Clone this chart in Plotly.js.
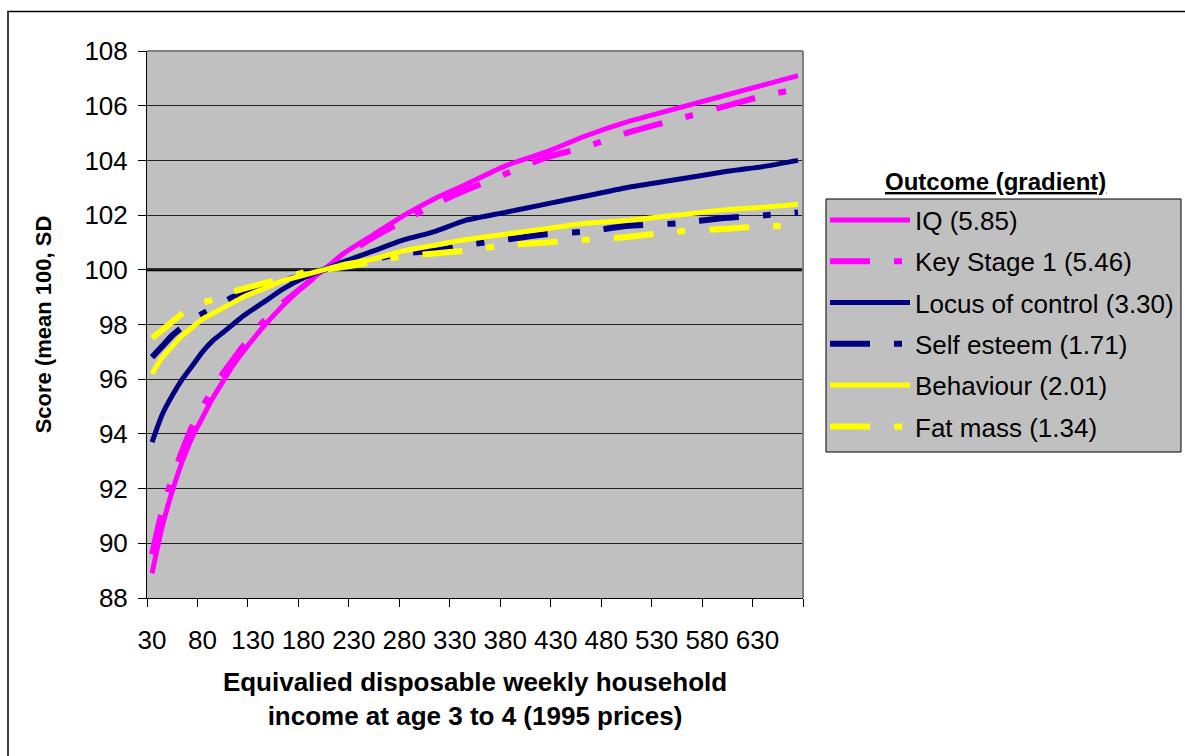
<!DOCTYPE html>
<html>
<head>
<meta charset="utf-8">
<script src="https://cdn.plot.ly/plotly-3.0.1.min.js"></script>
<style>
  html, body { margin: 0; padding: 0; background: #ffffff; }
  #chart { width: 1185px; height: 756px; }
</style>
</head>
<body>
<div id="chart"></div>
<script>
// Equivalised weekly household income (x, 1995 prices)
const income = [30, 40, 50, 60, 70, 80, 90, 100, 110, 120, 140, 160, 180, 200, 220, 250, 280, 310, 340, 380, 420, 460, 500, 550, 600, 640, 670];

// Scores (mean 100, SD)
const iq         = [88.9, 90.6, 91.9, 93.0, 93.9, 94.6, 95.3, 95.9, 96.5, 97.0, 97.9, 98.7, 99.4, 100.0, 100.6, 101.3, 102.0, 102.6, 103.1, 103.8, 104.3, 104.9, 105.4, 105.9, 106.4, 106.8, 107.1];
const keyStage1  = [89.6, 91.2, 92.4, 93.4, 94.3, 95.0, 95.6, 96.2, 96.7, 97.2, 98.1, 98.8, 99.4, 100.0, 100.5, 101.2, 101.8, 102.4, 102.9, 103.5, 104.1, 104.5, 105.0, 105.5, 106.0, 106.4, 106.6];
const locus      = [93.7, 94.7, 95.4, 96.0, 96.5, 97.0, 97.4, 97.7, 98.0, 98.3, 98.8, 99.3, 99.7, 100.0, 100.3, 100.7, 101.1, 101.4, 101.8, 102.1, 102.4, 102.7, 103.0, 103.3, 103.6, 103.8, 104.0];
const selfEsteem = [96.8, 97.2, 97.6, 97.9, 98.2, 98.4, 98.6, 98.8, 99.0, 99.1, 99.4, 99.6, 99.8, 100.0, 100.2, 100.4, 100.6, 100.7, 100.9, 101.1, 101.3, 101.4, 101.6, 101.7, 101.9, 102.0, 102.1];
const behaviour  = [96.2, 96.8, 97.2, 97.6, 97.9, 98.2, 98.4, 98.6, 98.8, 99.0, 99.3, 99.6, 99.8, 100.0, 100.2, 100.4, 100.7, 100.9, 101.1, 101.3, 101.5, 101.7, 101.8, 102.0, 102.2, 102.3, 102.4];
const fatMass    = [97.5, 97.8, 98.1, 98.4, 98.6, 98.8, 98.9, 99.1, 99.2, 99.3, 99.5, 99.7, 99.9, 100.0, 100.1, 100.3, 100.5, 100.6, 100.7, 100.9, 101.0, 101.1, 101.2, 101.4, 101.5, 101.6, 101.6];

const seriesNames = ["IQ (5.85)", "Key Stage 1 (5.46)", "Locus of control (3.30)", "Self esteem (1.71)", "Behaviour (2.01)", "Fat mass (1.34)"];

// x tick marks (category boundaries) and labels
const xTickVals = [25, 75, 125, 175, 225, 275, 325, 375, 425, 475, 525, 575, 625, 675];
const xTickText = ["30", "80", "130", "180", "230", "280", "330", "380", "430", "480", "530", "580", "630", ""];

const MAGENTA = "#FF00FF", NAVY = "#000080", YELLOW = "#FFFF00";
const DASH = "40px,24px,8px,24px";

function tr(y, name, color, dashed, i) {
  return {
    x: income, y: y, name: name, type: "scatter", mode: "lines",
    legendgroup: "g" + i,
    line: { color: color, width: dashed ? 6 : 5, dash: dashed ? DASH : "solid", shape: "spline", smoothing: 0.6 },
    hoverinfo: "skip"
  };
}

const data = [
  tr(iq, seriesNames[0], MAGENTA, false, 0),
  tr(keyStage1, seriesNames[1], MAGENTA, true, 1),
  tr(locus, seriesNames[2], NAVY, false, 2),
  tr(selfEsteem, seriesNames[3], NAVY, true, 3),
  tr(behaviour, seriesNames[4], YELLOW, false, 4),
  tr(fatMass, seriesNames[5], YELLOW, true, 5)
];

const W = 1185, H = 756, L = 147, R = 382, T = 51, B = 158;
const PW = W - L - R, PH = H - T - B;
const px = v => (v - L) / PW;          // page x pixel -> paper
const py = v => (H - B - v) / PH;      // page y pixel -> paper

const FONT = "Liberation Sans, Arial, sans-serif";

const layout = {
  width: W, height: H,
  margin: { l: L, r: R, t: T, b: B, pad: 0, autoexpand: false },
  paper_bgcolor: "#ffffff",
  plot_bgcolor: "#C0C0C0",
  font: { family: FONT, color: "#000000", size: 25 },
  showlegend: true,
  legend: {
    x: px(825), y: py(196.5), xanchor: "left", yanchor: "top",
    bgcolor: "rgba(0,0,0,0)", borderwidth: 0,
    font: { family: FONT, size: 26, color: "#000" },
    itemwidth: 80, traceorder: "grouped", tracegroupgap: 4.5,
    itemclick: false, itemdoubleclick: false
  },
  xaxis: {
    type: "linear", range: [25, 675],
    tickmode: "array", tickvals: xTickVals, ticktext: xTickText,
    ticks: "outside", ticklen: 8, tickwidth: 1, tickcolor: "#000",
    ticklabelshift: 5, ticklabelstandoff: 11,
    tickfont: { family: FONT, size: 26, color: "#000" },
    showline: true, linecolor: "#000", linewidth: 1,
    showgrid: false, zeroline: false, fixedrange: true,
    title: { text: "<b>Equivalied disposable weekly household<br>income at age 3 to 4 (1995 prices)</b>",
             font: { family: FONT, size: 26, color: "#000" }, standoff: 18 }
  },
  yaxis: {
    range: [88, 108], dtick: 2, tick0: 88,
    ticks: "outside", ticklen: 8, tickwidth: 1, tickcolor: "#000",
    ticklabelstandoff: 5,
    tickfont: { family: FONT, size: 26, color: "#000" },
    showline: true, linecolor: "#000", linewidth: 1,
    showgrid: true, gridcolor: "#222", gridwidth: 1,
    zeroline: false, fixedrange: true,
    title: { text: "<b>Score (mean 100, SD</b>", font: { family: FONT, size: 22, color: "#000" }, standoff: 26 }
  },
  shapes: [
    // outer chart border
    { type: "rect", xref: "paper", yref: "paper", x0: px(8), x1: px(1200), y0: py(770), y1: py(11.5),
      line: { color: "#000", width: 1.5 }, fillcolor: "rgba(0,0,0,0)", layer: "below" },
    // plot area top and right border
    { type: "line", xref: "paper", yref: "paper", x0: 0, x1: 1, y0: 1, y1: 1, line: { color: "#808080", width: 2 }, layer: "above" },
    { type: "line", xref: "paper", yref: "paper", x0: 1, x1: 1, y0: 0, y1: 1, line: { color: "#808080", width: 2 }, layer: "above" },
    // reference line at 100
    { type: "line", xref: "paper", yref: "y", x0: 0, x1: 1, y0: 100, y1: 100, line: { color: "#000", width: 3 }, layer: "between" },
    // legend box
    { type: "rect", xref: "paper", yref: "paper", x0: px(826), x1: px(1181), y0: py(452), y1: py(199),
      line: { color: "#000", width: 1 }, fillcolor: "#C0C0C0", layer: "below" }
  ],
  annotations: [
    { xref: "paper", yref: "paper", x: px(995), y: py(181), xanchor: "center", yanchor: "middle",
      text: "<b><u>Outcome (gradient)</u></b>", showarrow: false,
      font: { family: FONT, size: 24, color: "#000" } }
  ]
};

Plotly.newPlot("chart", data, layout, { displayModeBar: false, staticPlot: true });
</script>
</body>
</html>
